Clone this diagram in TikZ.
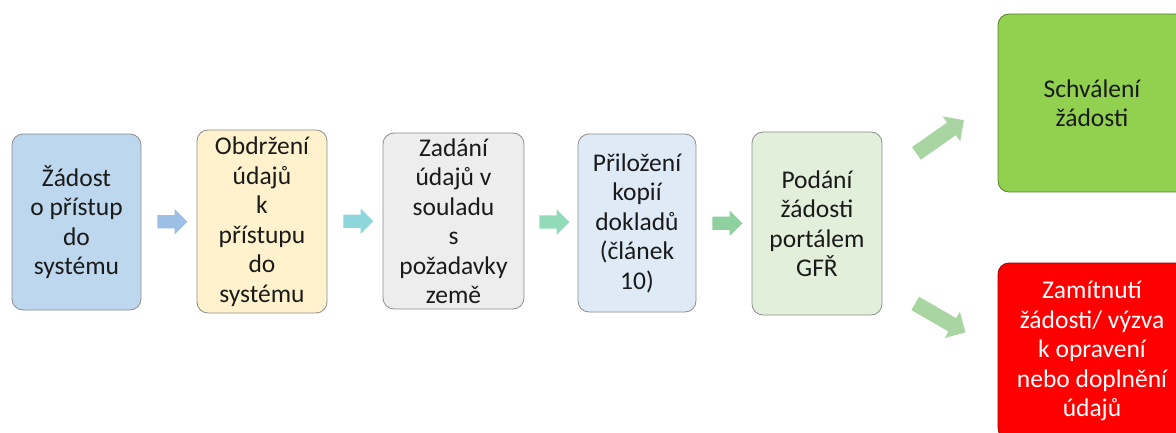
\documentclass[tikz,border=0pt]{standalone}
\usepackage{fontspec}
\setmainfont{Carlito}
\usetikzlibrary{shapes.arrows,calc}
\definecolor{cb1}{HTML}{BDD7EE}
\definecolor{cb2}{HTML}{FFF2CC}
\definecolor{cb3}{HTML}{EDEDED}
\definecolor{cb4}{HTML}{DEEBF7}
\definecolor{cb5}{HTML}{E2EFDA}
\definecolor{cb6}{HTML}{92D050}
\definecolor{cb7}{HTML}{FF0000}
\definecolor{ca1}{HTML}{9DBFE6}
\definecolor{ca2}{HTML}{8DD6DB}
\definecolor{ca3}{HTML}{92DBB8}
\definecolor{ca4}{HTML}{8FD19E}
\definecolor{ca5}{HTML}{A8D5A2}
\definecolor{bord}{HTML}{8C8C8C}
\definecolor{txt}{HTML}{1A1A1A}
\begin{document}
\begin{tikzpicture}[x=1pt,y=-1pt,
  box/.style={draw=bord, line width=0.8pt, rounded corners=11pt, align=center,
    font=\fontsize{25.5}{29.5}\selectfont, text=txt, inner sep=0pt},
  blockarrow/.style={single arrow, draw=none, inner xsep=0pt, inner ysep=6.5pt,
    minimum height=30pt, single arrow head extend=6pt},
  diagarrow/.style={single arrow, draw=none, fill=ca5, inner xsep=0pt, inner ysep=7.5pt,
    minimum height=58pt, single arrow head extend=7.5pt}]
\useasboundingbox (0,0) rectangle (1176,433);
\clip (0,0) rectangle (1176,433);
\node[box, fill=cb1, minimum width=129pt, minimum height=176pt] (b1) at (76.5,222)
  {Žádost\\o přístup\\do\\systému};
\node[box, fill=cb2, minimum width=130pt, minimum height=183pt] (b2) at (262,221.5)
  {Obdržení\\údajů\\k\\přístupu\\do\\systému};
\node[box, fill=cb3, minimum width=141pt, minimum height=176pt] (b3) at (453.5,221)
  {Zadání\\údajů v\\souladu\\s\\požadavky\\země};
\node[box, fill=cb4, minimum width=118pt, minimum height=178pt] (b4) at (637,223)
  {Přiložení\\kopií\\dokladů\\(článek\\10)};
\node[box, fill=cb5, minimum width=130pt, minimum height=183pt] (b5) at (817,223.5)
  {Podání\\žádosti\\portálem\\GFŘ};
\node[box, fill=cb6, draw=cb6!60!black, minimum width=188pt, minimum height=178pt] (b6) at (1092,103)
  {Schválení\\žádosti};
\node[box, fill=cb7, draw=cb7!60!black, text=white, minimum width=188pt, minimum height=176pt] (b7) at (1092,351)
  {Zamítnutí\\žádosti/ výzva\\k opravení\\nebo doplnění\\údajů};
\node[blockarrow, fill=ca1] (a1) at ($(b1.east)!0.5!(b2.west)$) {};
\node[blockarrow, fill=ca2] (a2) at ($(b2.east)!0.5!(b3.west)$) {};
\node[blockarrow, fill=ca3] (a3) at ($(b3.east)!0.5!(b4.west)$) {};
\node[blockarrow, fill=ca4] (a4) at ($(b4.east)!0.5!(b5.west)$) {};
\node[diagarrow, rotate=35] (a5) at (937,139) {};
\node[diagarrow, rotate=-30] (a6) at (937,316) {};
\end{tikzpicture}
\end{document}
